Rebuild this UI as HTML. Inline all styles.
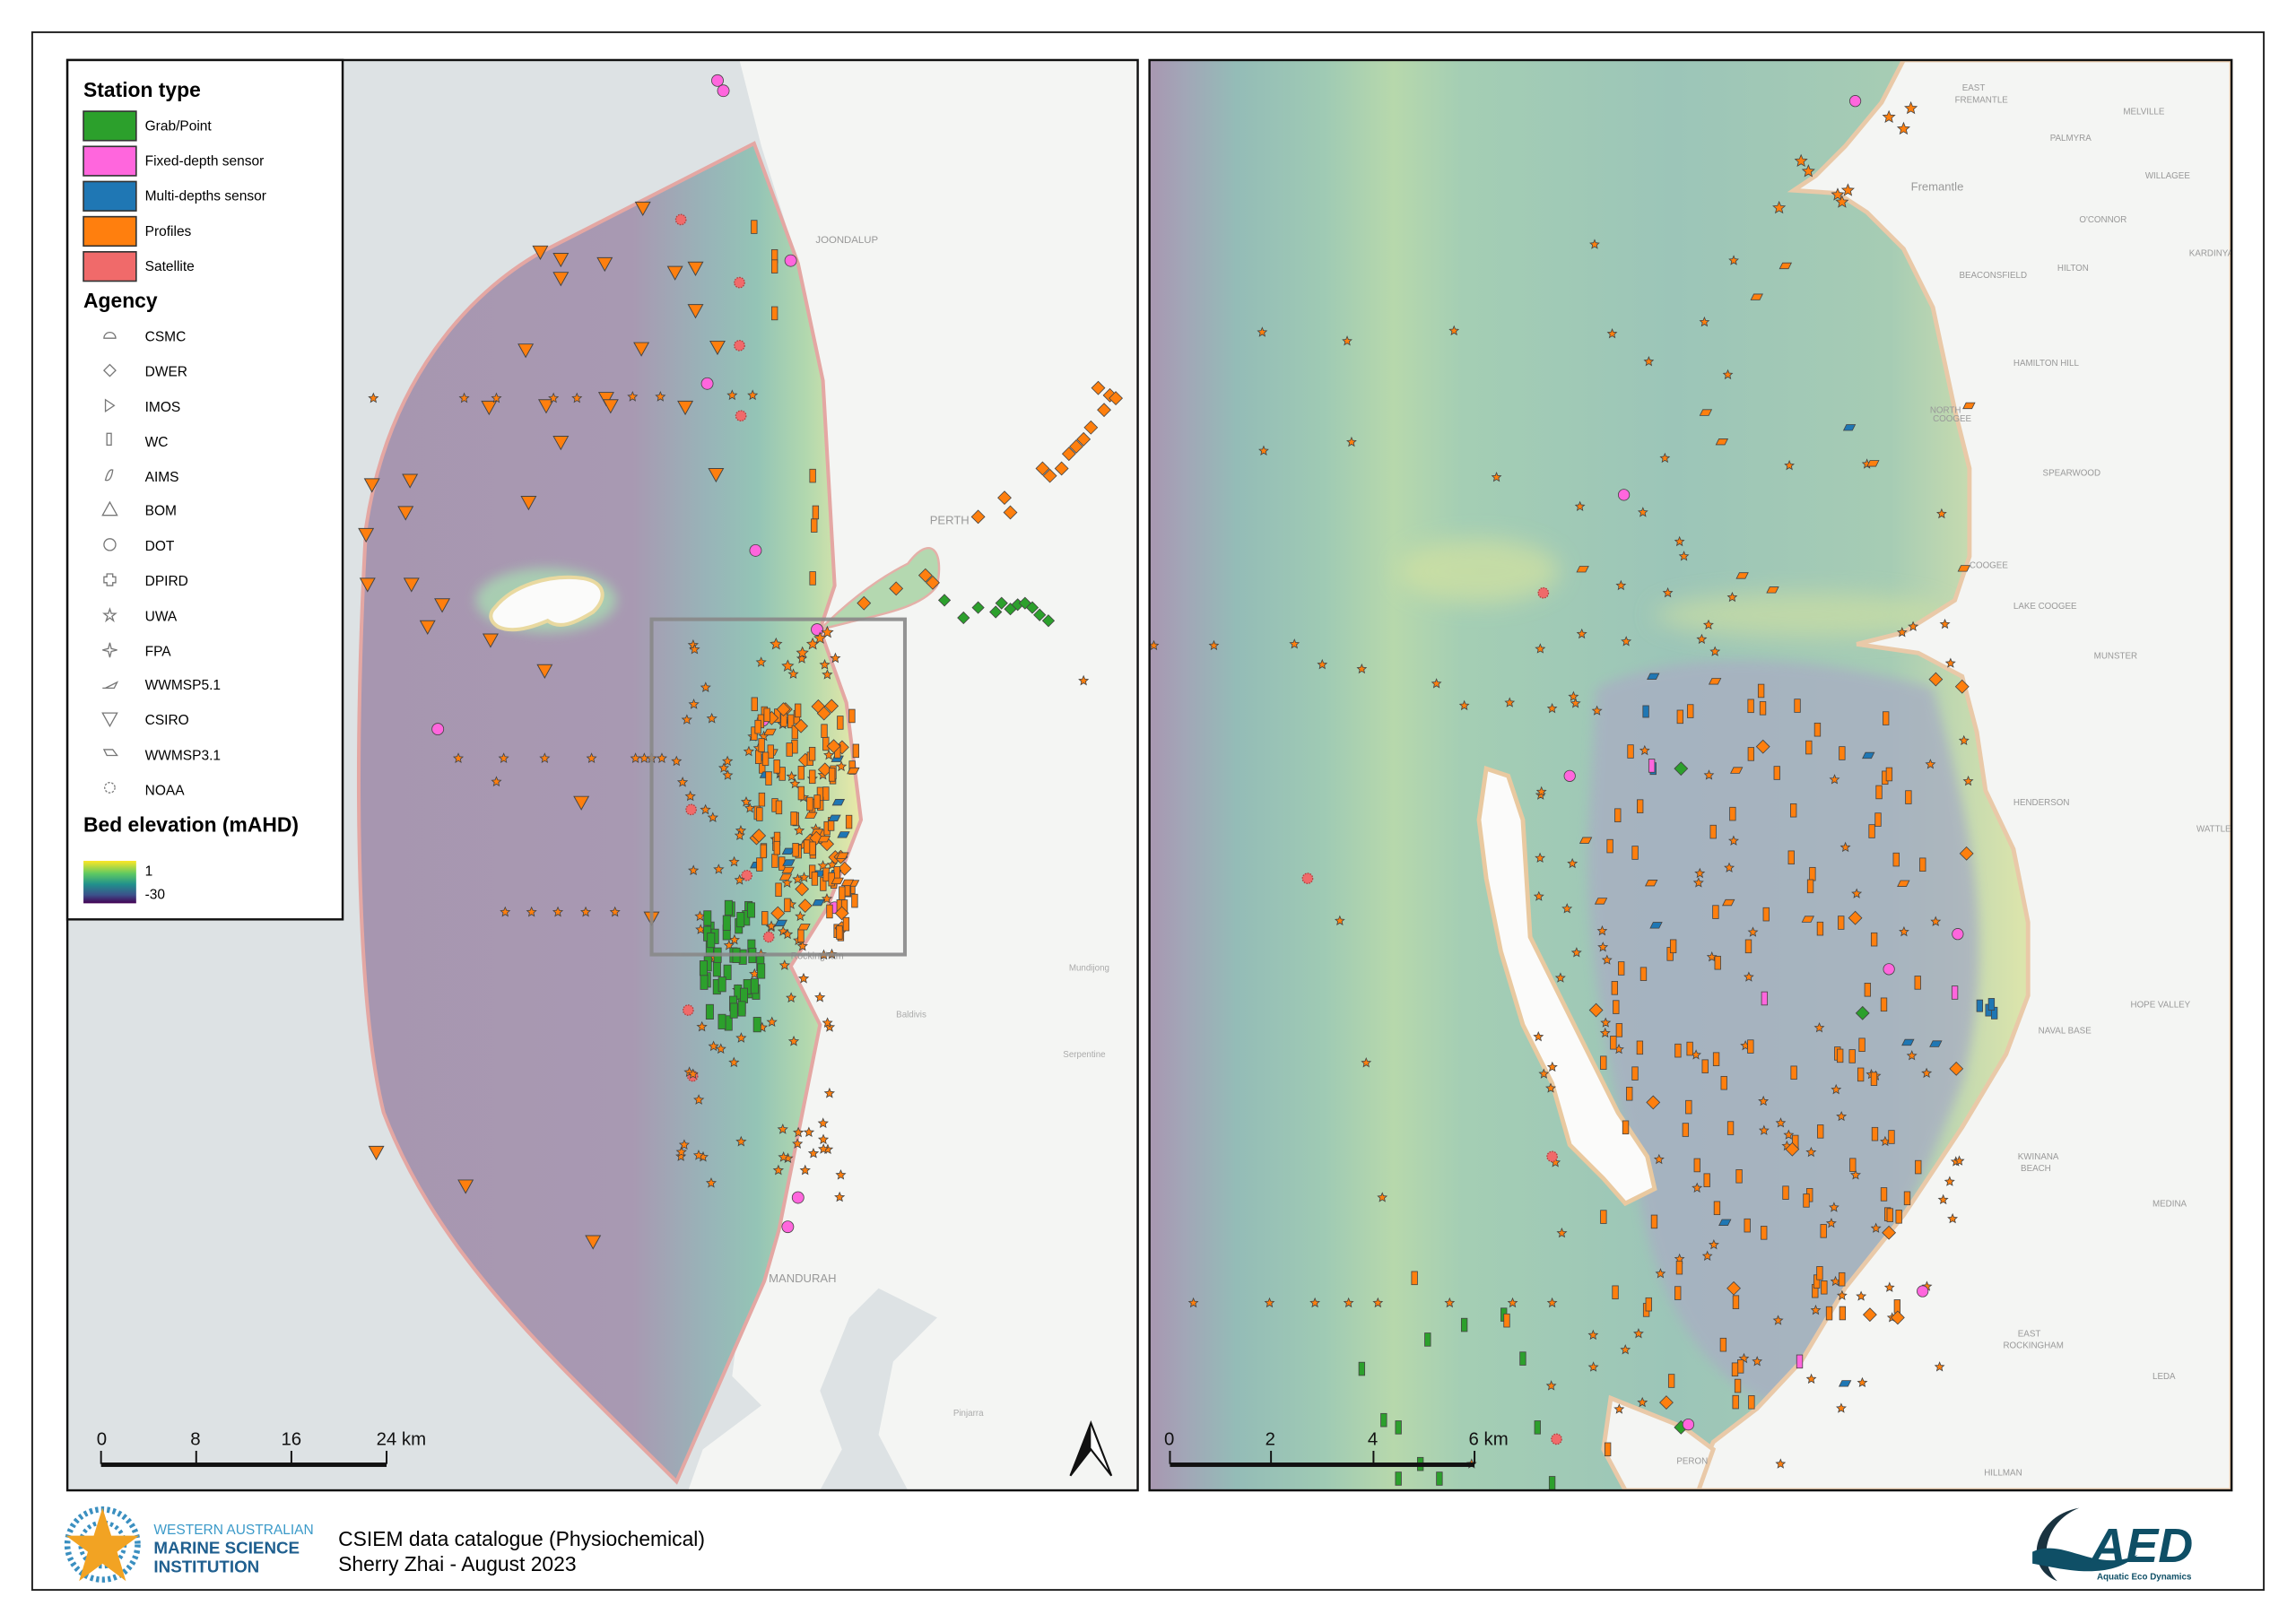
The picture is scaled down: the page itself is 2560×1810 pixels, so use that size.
<!DOCTYPE html>
<html><head><meta charset="utf-8"><style>
html,body{margin:0;padding:0;background:#fff;}
svg{display:block;}
text{font-family:"Liberation Sans",sans-serif;}
</style></head><body>
<svg id="s" width="2560" height="1810" viewBox="0 0 1568 1108.6" xmlns="http://www.w3.org/2000/svg">
<defs>
<filter id="bl" x="-50%" y="-50%" width="200%" height="200%"><feGaussianBlur stdDeviation="8"/></filter>
<filter id="bl2" x="-50%" y="-50%" width="200%" height="200%"><feGaussianBlur stdDeviation="4"/></filter>
<linearGradient id="gL" x1="245" y1="0" x2="585" y2="0" gradientUnits="userSpaceOnUse">
<stop offset="0" stop-color="#a796b0"/><stop offset="0.55" stop-color="#a899b2"/>
<stop offset="0.7" stop-color="#98b4b8"/><stop offset="0.8" stop-color="#94c4b6"/>
<stop offset="0.9" stop-color="#b2d8ae"/><stop offset="1" stop-color="#e6e8a8"/></linearGradient>
<linearGradient id="gR" x1="785" y1="0" x2="1380" y2="0" gradientUnits="userSpaceOnUse">
<stop offset="0" stop-color="#a897b1"/><stop offset="0.04" stop-color="#a2a6b7"/>
<stop offset="0.1" stop-color="#94bcb7"/><stop offset="0.2" stop-color="#9fcab4"/>
<stop offset="0.28" stop-color="#b7d8ac"/><stop offset="0.36" stop-color="#a4ceb4"/>
<stop offset="0.6" stop-color="#9cc5b8"/><stop offset="0.85" stop-color="#a6ccb4"/>
<stop offset="1" stop-color="#dbe4ac"/></linearGradient>
<linearGradient id="gC" x1="0" y1="588" x2="0" y2="617" gradientUnits="userSpaceOnUse">
<stop offset="0" stop-color="#fde725"/><stop offset="0.3" stop-color="#5ec962"/>
<stop offset="0.55" stop-color="#21918c"/><stop offset="0.8" stop-color="#3b528b"/>
<stop offset="1" stop-color="#440154"/></linearGradient>
<clipPath id="cL"><rect x="46" y="41" width="731" height="977"/></clipPath>
<clipPath id="cR"><rect x="785" y="41" width="739" height="977"/></clipPath>
</defs>
<rect width="1568" height="1108.6" fill="#fff"/>
<rect x="22" y="22" width="1524" height="1064" fill="none" stroke="#222" stroke-width="1.2"/>

<!-- LEFT MAP -->
<g clip-path="url(#cL)">
<rect x="46" y="41" width="731" height="977" fill="#f4f5f3"/>
<path d="M46 41 L505 41 L520 100 L545 180 L560 260 L570 400 L560 430 L578 480 L588 560 L565 620 L540 660 L560 700 L548 760 L532 840 L522 875 L505 900 L500 940 L520 960 L480 990 L470 1018 L46 1018 Z" fill="#dde2e4"/>
<path d="M600 880 L580 900 L560 950 L575 990 L560 1018 L620 1018 L600 980 L610 930 L640 900 Z" fill="#dde2e4"/>
<path d="M515 98 L545 180 L562 260 L570 400 L560 430 L578 480 L588 560 L565 620 L540 660 L560 700 L548 760 L532 840 L522 875 L462 1012 C380 930 300 860 262 760 C242 680 242 500 250 360 C265 260 320 200 370 172 Z" fill="url(#gL)" stroke="#e4a7a3" stroke-width="2.5"/>
<ellipse cx="373" cy="410" rx="48" ry="22" fill="#a9d3b2" opacity="0.9" filter="url(#bl2)"/>
<path d="M338 415 C350 400 375 392 398 395 C415 398 414 410 405 418 C392 426 382 430 374 424 C360 430 348 432 340 428 C334 424 334 419 338 415 Z" fill="#fbfbfa" stroke="#e9d9a0" stroke-width="2.5"/>
<path d="M560 430 C580 410 600 395 620 385 C635 365 645 375 640 400 C630 415 600 420 580 425 Z" fill="#b4d8b0" stroke="#e4b0a8" stroke-width="1.5"/>
<text x="557" y="166" font-size="7" fill="#999">JOONDALUP</text>
<text x="635" y="358" font-size="8" fill="#999">PERTH</text>
<text x="525" y="876" font-size="8" fill="#999">MANDURAH</text>
<text x="540" y="655" font-size="6.5" fill="#999">Rockingham</text>
<text x="730" y="663" font-size="6" fill="#aaa">Mundijong</text>
<text x="612" y="695" font-size="6" fill="#aaa">Baldivis</text>
<text x="651" y="967" font-size="6" fill="#aaa">Pinjarra</text>
<text x="726" y="722" font-size="6" fill="#aaa">Serpentine</text>
<g id="mL"></g>
<rect x="445" y="423" width="173" height="229" fill="none" stroke="#888" stroke-width="2.5" opacity="0.9"/>
</g>
<rect x="46" y="41" width="731" height="977" fill="none" stroke="#111" stroke-width="1.5"/>

<!-- Legend -->
<rect x="46" y="41" width="188" height="587" fill="#fff" stroke="#111" stroke-width="1.5"/>
<text x="57" y="66" font-size="14" font-weight="bold">Station type</text>
<g stroke="#333" stroke-width="1">
<rect x="57" y="76" width="36" height="20" fill="#2ca02c"/>
<rect x="57" y="100" width="36" height="20" fill="#ff66dd"/>
<rect x="57" y="124" width="36" height="20" fill="#1f77b4"/>
<rect x="57" y="148" width="36" height="20" fill="#ff7f0e"/>
<rect x="57" y="172" width="36" height="20" fill="#f06a6a"/>
</g>
<g font-size="9.5">
<text x="99" y="89">Grab/Point</text><text x="99" y="113">Fixed-depth sensor</text>
<text x="99" y="137">Multi-depths sensor</text><text x="99" y="161">Profiles</text>
<text x="99" y="185">Satellite</text>
</g>
<text x="57" y="210" font-size="14" font-weight="bold">Agency</text>
<g font-size="9.5">
<text x="99" y="233">CSMC</text><text x="99" y="257">DWER</text><text x="99" y="281">IMOS</text>
<text x="99" y="305">WC</text><text x="99" y="329">AIMS</text><text x="99" y="352">BOM</text>
<text x="99" y="376">DOT</text><text x="99" y="400">DPIRD</text><text x="99" y="424">UWA</text>
<text x="99" y="448">FPA</text><text x="99" y="471">WWMSP5.1</text><text x="99" y="495">CSIRO</text>
<text x="99" y="519">WWMSP3.1</text><text x="99" y="543">NOAA</text>
</g>
<g fill="none" stroke="#777" stroke-width="0.8">
<path d="M71 231 A4 4 0 0 1 79 231 Z"/>
<path d="M75 249 L79 253 L75 257 L71 253 Z"/>
<path d="M72 273 L78 277 L72 281 Z"/>
<rect x="73" y="296" width="3" height="8"/>
<path d="M72 328 Q74 320 77 321 Q76 329 72 328 Z"/>
<path d="M75 343 L80 352 L70 352 Z"/>
<circle cx="75" cy="372" r="4"/>
<path d="M73 392 h4 v2 h2 v4 h-2 v2 h-4 v-2 h-2 v-4 h2 Z"/>
<path d="M75 416 L76 419 L79 419 L76.5 421 L77.5 424 L75 422 L72.5 424 L73.5 421 L71 419 L74 419 Z"/>
<path d="M75 439 L76 443 L80 444 L76 445 L75 449 L74 445 L70 444 L74 443 Z"/>
<path d="M72 470 L80 466 L78 470 L70 470 Z"/>
<path d="M70 487 L80 487 L75 496 Z"/>
<path d="M71 512 L77 512 L80 516 L73 516 Z"/>
<circle cx="75" cy="538" r="3.5" stroke-dasharray="1.5 1"/>
</g>
<text x="57" y="568" font-size="14" font-weight="bold">Bed elevation (mAHD)</text>
<rect x="57" y="588" width="36" height="29" fill="url(#gC)"/>
<text x="99" y="598" font-size="9.5">1</text><text x="99" y="614" font-size="9.5">-30</text>

<!-- Left scale bar -->
<g font-size="12.5" fill="#111">
<text x="66" y="987">0</text><text x="130" y="987">8</text><text x="192" y="987">16</text><text x="257" y="987">24 km</text>
</g>
<g stroke="#111" stroke-width="1.2"><line x1="69" y1="991" x2="69" y2="1000"/><line x1="134" y1="991" x2="134" y2="1000"/><line x1="199" y1="991" x2="199" y2="1000"/><line x1="264" y1="991" x2="264" y2="1000"/></g>
<rect x="69" y="999" width="195" height="3" fill="#111"/>
<path d="M745 972 L731 1008 L745 990 L759 1008 Z" fill="#fff" stroke="#111" stroke-width="1.3"/>
<path d="M745 972 L745 990 L731 1008 Z" fill="#111"/>

<!-- RIGHT MAP -->
<g clip-path="url(#cR)">
<rect x="785" y="41" width="739" height="977" fill="url(#gR)"/>
<ellipse cx="1010" cy="390" rx="55" ry="22" fill="#d3e2a0" opacity="0.7" filter="url(#bl)"/>
<ellipse cx="1230" cy="420" rx="100" ry="15" fill="#d3e2a0" opacity="0.6" filter="url(#bl)"/>
<path d="M1090 470 C1150 440 1250 450 1320 470 C1345 560 1365 640 1340 740 C1300 840 1260 920 1210 960 C1160 940 1130 880 1120 820 C1100 740 1080 640 1085 560 Z" fill="#a8afc2" opacity="0.8" filter="url(#bl2)"/>
<path d="M1300 41 L1285 70 L1260 100 L1240 120 L1225 130 L1255 132 L1275 145 L1300 170 L1320 210 L1335 280 L1345 320 L1345 380 L1335 410 L1300 432 L1268 440 L1310 446 L1340 462 L1350 500 L1356 540 L1375 580 L1385 630 L1385 680 L1370 720 L1340 770 L1300 830 L1260 880 L1230 930 L1200 962 L1170 985 L1155 1018 L1524 1018 L1524 41 Z" fill="#f4f5f3" stroke="#e9c9a8" stroke-width="3"/>
<path d="M1100 955 L1150 975 L1170 990 L1160 1018 L1110 1018 L1095 990 Z" fill="#f4f5f3" stroke="#e9c9a8" stroke-width="3"/>
<path d="M1015 525 L1030 530 L1040 560 L1045 640 L1075 700 L1105 760 L1125 790 L1130 812 L1110 822 L1095 805 L1072 782 L1060 740 L1040 700 L1025 650 L1015 600 L1010 560 Z" fill="#fbfbfa" stroke="#e9c9a0" stroke-width="3"/>
<g font-size="6" fill="#999">
<text x="1305" y="130" font-size="8">Fremantle</text><text x="1340" y="62">EAST</text><text x="1335" y="70">FREMANTLE</text>
<text x="1400" y="96">PALMYRA</text><text x="1450" y="78">MELVILLE</text><text x="1465" y="122">WILLAGEE</text>
<text x="1420" y="152">O'CONNOR</text><text x="1338" y="190">BEACONSFIELD</text><text x="1405" y="185">HILTON</text>
<text x="1375" y="250">HAMILTON HILL</text><text x="1318" y="282">NORTH</text><text x="1320" y="288">COOGEE</text>
<text x="1395" y="325">SPEARWOOD</text><text x="1345" y="388">COOGEE</text><text x="1375" y="416">LAKE COOGEE</text>
<text x="1430" y="450">MUNSTER</text><text x="1375" y="550">HENDERSON</text><text x="1392" y="706">NAVAL BASE</text>
<text x="1455" y="688">HOPE VALLEY</text><text x="1378" y="792">KWINANA</text><text x="1380" y="800">BEACH</text>
<text x="1470" y="824">MEDINA</text><text x="1378" y="913">EAST</text><text x="1368" y="921">ROCKINGHAM</text>
<text x="1470" y="942">LEDA</text><text x="1355" y="1008">HILLMAN</text><text x="1145" y="1000">PERON</text>
<text x="1495" y="175">KARDINYA</text><text x="1500" y="568">WATTLE</text>
</g>
<g id="mR"></g>
</g>
<rect x="785" y="41" width="739" height="977" fill="none" stroke="#111" stroke-width="1.5"/>
<g font-size="12.5" fill="#111">
<text x="795" y="987">0</text><text x="864" y="987">2</text><text x="934" y="987">4</text><text x="1003" y="987">6 km</text>
</g>
<g stroke="#111" stroke-width="1.2"><line x1="799" y1="991" x2="799" y2="1000"/><line x1="868" y1="991" x2="868" y2="1000"/><line x1="938" y1="991" x2="938" y2="1000"/><line x1="1007" y1="991" x2="1007" y2="1000"/></g>
<rect x="799" y="999" width="208" height="3" fill="#111"/>

<!-- Footer -->
<g>
<circle cx="70" cy="1055" r="24" fill="none" stroke="#3a8fc0" stroke-width="4" stroke-dasharray="2 2"/>
<circle cx="70" cy="1055" r="15" fill="none" stroke="#3a8fc0" stroke-width="3" stroke-dasharray="2 2"/>
<path d="M70 1030 L76 1049 L95 1049 L80 1060 L86 1080 L70 1068 L54 1080 L60 1060 L45 1049 L64 1049 Z" fill="#f2a323"/>
<text x="105" y="1048" font-size="9.5" fill="#3b9ac9">WESTERN AUSTRALIAN</text>
<text x="105" y="1061" font-size="11.5" font-weight="bold" fill="#1f5f8f">MARINE SCIENCE</text>
<text x="105" y="1074" font-size="11.5" font-weight="bold" fill="#1f5f8f">INSTITUTION</text>
<text x="231" y="1056" font-size="14">CSIEM data catalogue (Physiochemical)</text>
<text x="231" y="1073" font-size="14">Sherry Zhai - August 2023</text>
<path d="M1420 1030 C1390 1035 1380 1070 1405 1080 C1392 1068 1395 1040 1420 1030 Z" fill="#1a3340"/>
<path d="M1388 1060 C1410 1050 1430 1075 1460 1062 C1440 1080 1410 1072 1388 1068 Z" fill="#0f4f66"/>
<text x="1428" y="1067" font-size="33" font-weight="bold" fill="#0f4f66" font-style="italic">AED</text>
<text x="1432" y="1079" font-size="6" fill="#0f4f66" font-weight="bold">Aquatic Eco Dynamics</text>
</g>
</svg>
<script>
(function(){
var NS="http://www.w3.org/2000/svg";
var seed=7;function r(){seed=(seed*16807)%2147483647;return seed/2147483647;}
function add(g,tag,a){var e=document.createElementNS(NS,tag);for(var k in a)e.setAttribute(k,a[k]);g.appendChild(e);}
var O="#ff7f0e",G="#2ca02c",P="#ff66dd",B="#1f77b4",S="#444";
function star(g,x,y,s,c){s=s||3.6;var p=[];for(var i=0;i<10;i++){var rr=i%2?s*0.45:s,a=Math.PI/5*i-Math.PI/2;p.push((x+rr*Math.cos(a)).toFixed(1)+","+(y+rr*Math.sin(a)).toFixed(1));}add(g,"polygon",{points:p.join(" "),fill:c||O,stroke:S,"stroke-width":0.5});}
function tri(g,x,y,s){s=s||5;add(g,"polygon",{points:(x-s)+","+(y-s*0.8)+" "+(x+s)+","+(y-s*0.8)+" "+x+","+(y+s),fill:O,stroke:S,"stroke-width":0.6});}
function rc(g,x,y,c,w,h){w=w||4;h=h||9;add(g,"rect",{x:x-w/2,y:y-h/2,width:w,height:h,fill:c||O,stroke:S,"stroke-width":0.5});}
function ci(g,x,y,s){add(g,"circle",{cx:x,cy:y,r:s||4,fill:P,stroke:S,"stroke-width":0.5});}
function di(g,x,y,c,s){s=s||4.5;add(g,"polygon",{points:x+","+(y-s)+" "+(x+s)+","+y+" "+x+","+(y+s)+" "+(x-s)+","+y,fill:c||O,stroke:S,"stroke-width":0.5});}
function pa(g,x,y,c){add(g,"polygon",{points:(x-4)+","+(y+2)+" "+(x-2)+","+(y-2)+" "+(x+4)+","+(y-2)+" "+(x+2)+","+(y+2),fill:c||O,stroke:S,"stroke-width":0.5});}
function no(g,x,y){add(g,"circle",{cx:x,cy:y,r:3.5,fill:"#f06a6a",stroke:"#b04040","stroke-width":0.8,"stroke-dasharray":"1 0.8"});}
var L=document.getElementById("mL"),R=document.getElementById("mR");
[[439,142],[369,172],[383,177],[413,180],[461,186],[475,183],[383,190],[359,239],[438,238],[490,237],[334,278],[373,277],[414,272],[417,277],[383,302],[489,324],[361,343],[254,331],[280,328],[277,350],[250,365],[251,399],[281,399],[302,413],[292,428],[335,437],[372,458],[397,548],[445,627],[257,787],[318,810],[405,848],[475,212],[468,278]].forEach(function(p){tri(L,p[0],p[1]);});
[[515,155],[529,175],[529,182],[529,214],[555,325],[557,350],[556,359],[555,395]].forEach(function(p){rc(L,p[0],p[1]);});
[[490,55],[494,62],[540,178],[483,262],[516,376],[299,498],[558,430],[570,620],[538,838],[545,818],[521,492]].forEach(function(p){ci(L,p[0],p[1]);});
[[750,265],[758,270],[762,272],[754,280],[745,292],[740,300],[735,305],[730,310],[725,320],[717,325],[712,320],[686,340],[690,350],[668,353],[632,393],[637,398],[612,402],[590,412]].forEach(function(p){di(L,p[0],p[1]);});
[[645,410],[658,422],[668,415],[680,418],[684,412],[690,416],[695,413],[700,412],[705,415],[710,420],[716,424]].forEach(function(p){di(L,p[0],p[1],G,4);});
[[255,272],[317,272],[339,272],[378,272],[394,272],[432,271],[451,271],[500,270],[514,270],[313,518],[344,518],[372,518],[404,518],[434,518],[440,518],[445,518],[452,518],[462,520],[339,534],[345,623],[363,623],[381,623],[400,623],[420,623],[740,465]].forEach(function(p){star(L,p[0],p[1],3.3);});
[[465,150],[505,193],[505,236],[506,284],[510,598],[472,553],[470,690],[473,735],[525,640]].forEach(function(p){no(L,p[0],p[1]);});
for(var i=0;i<110;i++){star(L,465+r()*110,440+r()*380,3.3);}
for(var i=0;i<140;i++){var x=515+r()*70,y=480+r()*160;var t=r();if(t<0.7)rc(L,x,y);else if(t<0.85)di(L,x,y);else if(t<0.93)pa(L,x,y,B);else pa(L,x,y);}
for(var i=0;i<45;i++){rc(L,478+r()*42,620+r()*80,G,5,10);}
[[530,440],[555,440],[565,432],[560,436],[548,446],[538,455]].forEach(function(p){star(L,p[0],p[1],4,O);});
var rs=[[862,227],[920,233],[993,226],[863,308],[923,302],[1022,326],[788,441],[829,441],[884,440],[903,454],[930,457],[981,467],[1000,482],[1031,480],[1060,484],[1089,167],[1184,178],[1164,220],[1101,228],[1126,247],[1180,256],[1137,313],[1079,346],[1107,400],[1139,405],[1183,408],[1222,318],[1275,317],[1326,351],[1299,432],[1122,350],[1147,370],[1150,380],[915,629],[933,726],[944,818],[815,890],[867,890],[898,890],[921,890],[941,890],[990,890],[1033,890],[1060,890],[1088,912],[1110,922],[1119,911],[1134,870],[1147,860],[1166,858],[1200,930],[1237,942],[1191,928],[1240,895],[1258,885],[1216,1000],[1005,1000]];
rs.forEach(function(p){star(R,p[0],p[1],3.2);});
for(var i=0;i<90;i++){star(R,1050+r()*300,420+r()*560,3.2);}
for(var i=0;i<120;i++){var x=1095+r()*220,y=465+r()*500;var dx=x-1200,dy=y-700;if(dx*dx/14000+dy*dy/70000>1.2)continue;rc(R,x,y);}
for(var i=0;i<18;i++){pa(R,1050+r()*300,180+r()*480);}
[[1263,292],[1129,462],[1276,516],[1131,632],[1303,712],[1322,713],[1178,835],[1260,945]].forEach(function(p){pa(R,p[0],p[1],B);});
[[1124,486],[1129,525],[1352,687],[1358,690],[1362,692],[1360,686]].forEach(function(p){rc(R,p[0],p[1],B,4,8);});
[[1204,510],[1267,627],[1343,583],[1322,464],[1340,469],[1090,690],[1129,753],[1224,785],[1290,842],[1296,900],[1336,730],[1277,898],[1184,880],[1138,958]].forEach(function(p){di(R,p[0],p[1]);});
[[1148,525],[1272,692],[1148,975]].forEach(function(p){di(R,p[0],p[1],G);});
[[1267,69],[1109,338],[1313,882],[1072,530],[1290,662],[1337,638],[1153,973]].forEach(function(p){ci(R,p[0],p[1],3.8);});
[[1128,523],[1205,682],[1229,930],[1335,678]].forEach(function(p){rc(R,p[0],p[1],P,4,9);});
[[1054,405],[893,600],[1060,790],[1063,983]].forEach(function(p){no(R,p[0],p[1]);});
[[1235,117],[1255,133],[1258,138],[1262,130],[1290,80],[1300,88],[1305,74],[1215,142],[1230,110]].forEach(function(p){star(R,p[0],p[1],4.2);});
[[955,975],[930,935],[975,915],[1000,905],[1040,928],[1027,898],[1050,975],[955,1010],[983,1010],[1060,1013],[970,1000],[945,970]].forEach(function(p){rc(R,p[0],p[1],G,4,9);});
[[966,873],[1029,902],[1098,990]].forEach(function(p){rc(R,p[0],p[1]);});
})();
</script>
</body></html>
